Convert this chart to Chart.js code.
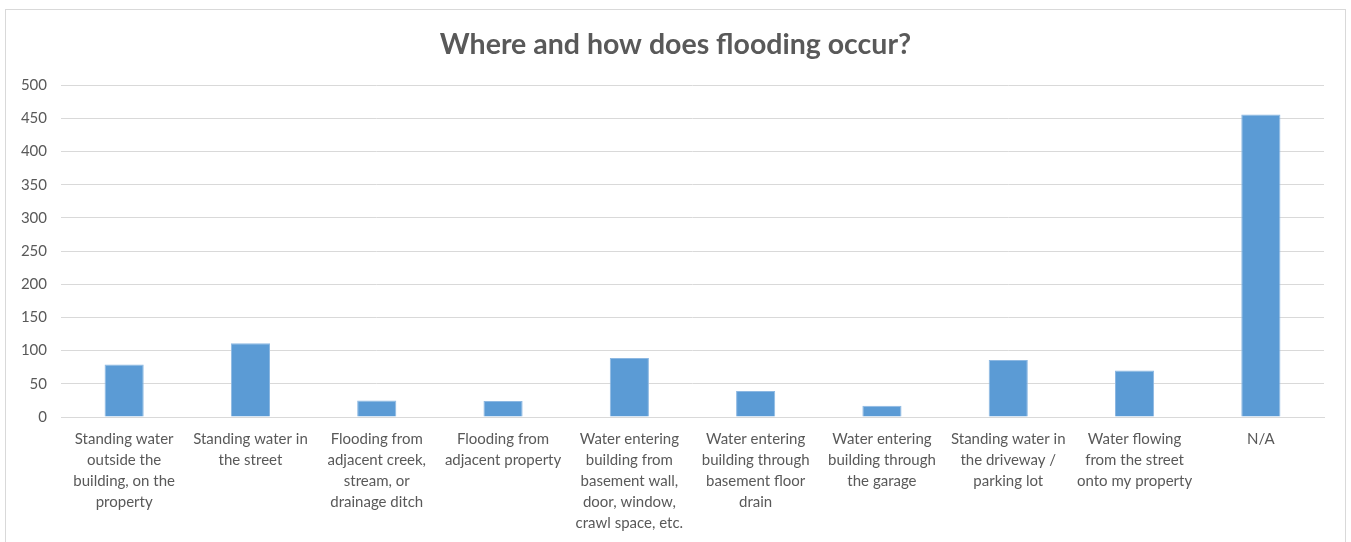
<!DOCTYPE html>
<html>
<head>
<meta charset="utf-8">
<script src="https://cdn.jsdelivr.net/npm/chart.js@4/dist/chart.umd.min.js"></script>
<style>
    html, body { margin: 0; padding: 0; background: #fff; }
    #frame {
        position: absolute;
        left: 5px;
        top: 9px;
        width: 1341px;
        height: 540px;
        border: 1px solid #D9D9D9;
        box-sizing: border-box;
    }
    #wrap { position: absolute; left: 0; top: 0; width: 1351px; height: 542px; }
</style>
</head>
<body>
<div id="frame"></div>
<div id="wrap"><canvas id="floodChart" width="1351" height="542"></canvas></div>
<script>
// --- Survey data ---
const chartTitle = 'Where and how does flooding occur?';

const categories = [
    ['Standing water', 'outside the', 'building, on the', 'property'],
    ['Standing water in', 'the street'],
    ['Flooding from', 'adjacent creek,', 'stream, or', 'drainage ditch'],
    ['Flooding from', 'adjacent property'],
    ['Water entering', 'building from', 'basement wall,', 'door, window,', 'crawl space, etc.'],
    ['Water entering', 'building through', 'basement floor', 'drain'],
    ['Water entering', 'building through', 'the garage'],
    ['Standing water in', 'the driveway /', 'parking lot'],
    ['Water flowing', 'from the street', 'onto my property'],
    ['N/A']
];

const responses = [79, 111, 25, 24, 89, 39, 17, 86, 70, 456];

const yTicks = [0, 50, 100, 150, 200, 250, 300, 350, 400, 450, 500];

// --- Styling ---
const FONT = 'Lato, "Open Sans", sans-serif';
const TEXT_GRAY = '#595959';
const GRID_GRAY = '#D9D9D9';
const BAR_BLUE = '#5B9BD5';

function init() {
    const ctx = document.getElementById('floodChart').getContext('2d');

    new Chart(ctx, {
        type: 'bar',
        data: {
            labels: categories,
            datasets: [{
                label: 'Responses',
                data: responses,
                backgroundColor: BAR_BLUE,
                borderColor: '#8DB8E2',
                borderWidth: 1,
                barPercentage: 0.31,
                categoryPercentage: 1.0
            }]
        },
        options: {
            responsive: false,
            animation: false,
            layout: {
                padding: 0
            },
            plugins: {
                legend: { display: false },
                tooltip: { enabled: false },
                title: {
                    display: true,
                    text: chartTitle,
                    color: TEXT_GRAY,
                    font: { family: FONT, size: 28.5, weight: 'bold', lineHeight: 1.2 },
                    padding: { top: 28, bottom: 23 }
                }
            },
            scales: {
                x: {
                    grid: { display: false, drawTicks: false },
                    border: { color: GRID_GRAY, width: 1 },
                    ticks: {
                        color: TEXT_GRAY,
                        font: { family: FONT, size: 15, lineHeight: 1.4 },
                        padding: 12,
                        maxRotation: 0,
                        minRotation: 0,
                        autoSkip: false
                    },
                    afterFit(scale) {
                        scale.height = 125;
                    }
                },
                y: {
                    min: 0,
                    max: 500,
                    afterBuildTicks(scale) {
                        scale.ticks = yTicks.map(v => ({ value: v }));
                    },
                    grid: { color: GRID_GRAY, drawTicks: false },
                    border: { display: false },
                    ticks: {
                        color: TEXT_GRAY,
                        font: { family: FONT, size: 15 },
                        padding: 14
                    },
                    afterFit(scale) {
                        scale.width = 61;
                    }
                },
                // empty right-hand axis: reserves the right margin while the
                // title stays centred across the whole canvas
                spacer: {
                    type: 'linear',
                    position: 'right',
                    grid: { display: false, drawTicks: false },
                    border: { display: false },
                    ticks: { display: false },
                    afterFit(scale) {
                        scale.width = 27;
                    }
                }
            }
        }
    });
}

document.addEventListener('DOMContentLoaded', init);
</script>
</body>
</html>
